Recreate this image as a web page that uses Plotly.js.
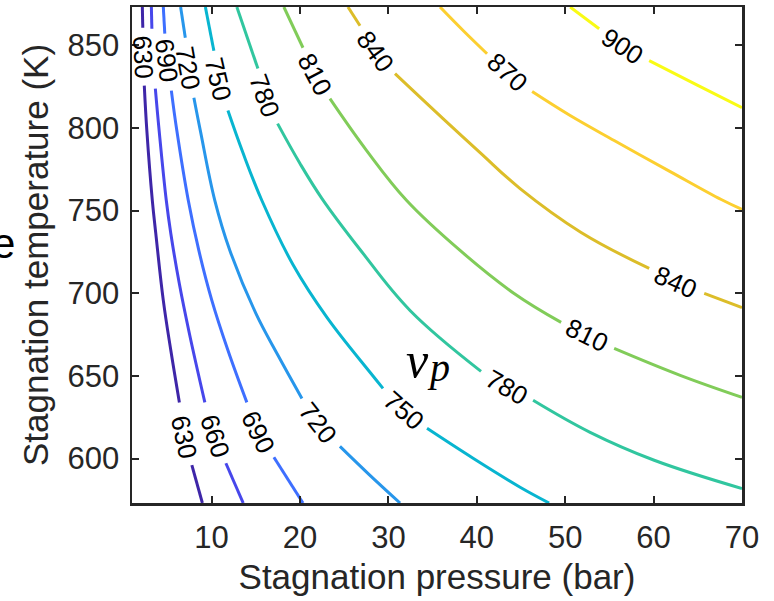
<!DOCTYPE html>
<html><head><meta charset="utf-8">
<script src="https://cdn.plot.ly/plotly-3.0.1.min.js"></script>
<style>html,body{margin:0;padding:0;background:#fff}</style>
</head><body><div id="chart" style="width:774px;height:601px"></div>
<script>
// Contour levels of v_p
const levels = [630, 660, 690, 720, 750, 780, 810, 840, 870, 900];
// Axis ticks
const xTicks = [10, 20, 30, 40, 50, 60, 70];
const yTicks = [600, 650, 700, 750, 800, 850];
// Traced contour lines: stagnation pressure (bar) and stagnation temperature (K); null = label gap
const p630 = [2.17, 2.22, null, 2.39, 2.68, 3.30, 3.69, 4.54, 5.39, 6.36, null, 7.77, 8.96];
const T630 = [873.15, 860.6, null, 825.6, 798.4, 756.1, 736.2, 695.7, 665.5, 634.0, null, 596.0, 573.15];
const p660 = [3.19, 3.25, null, 3.64, 4.07, 4.88, 5.39, 6.35, 7.49, 9.24, null, 11.62, 13.58];
const T660 = [873.15, 860.0, null, 823.8, 798.4, 756.1, 736.2, 705.9, 675.7, 634.0, null, 597.2, 573.15];
const p690 = [4.54, 4.71, null, 5.45, 6.07, 7.37, 8.56, 10.03, 11.85, 13.99, null, 17.05, 20.34];
const T690 = [873.15, 857.0, null, 822.6, 798.4, 756.1, 725.9, 695.7, 665.5, 634.0, null, 600.8, 573.15];
const p720 = [6.50, 7.03, null, 8.00, 8.73, 10.37, 12.07, 15.01, 17.51, 20.22, null, 24.52, 27.80, 31.32];
const T720 = [873.15, 854.6, null, 818.3, 798.4, 756.1, 725.9, 687.8, 662.5, 636.4, null, 607.4, 590.5, 573.15];
const p750 = [9.30, 10.26, null, 11.85, 13.54, 15.69, 19.20, 23.05, 27.92, 29.39, null, 34.37, 39.58, 44.90, 48.18];
const T750 = [873.15, 846.7, null, 810.5, 785.1, 756.1, 717.4, 685.4, 652.2, 642.5, null, 618.3, 600.2, 582.7, 573.15];
const p780 = [12.86, 15.24, null, 17.47, 20.00, 22.49, 26.79, 32.45, 40.48, null, 46.37, 52.82, 60.07, 70.00];
const T780 = [873.15, 835.9, null, 802.6, 778.5, 757.3, 726.5, 689.6, 652.8, null, 635.3, 615.9, 599.0, 581.9];
const p810 = [18.18, 20.34, null, 23.39, 27.54, 32.07, 38.11, 44.22, 49.54, null, 55.54, 63.01, 70.00];
const T810 = [873.15, 848.5, null, 817.7, 786.3, 756.1, 725.9, 699.9, 682.4, null, 666.7, 650.4, 637.1];
const p840 = [25.43, 26.79, null, 30.75, 36.18, 40.37, 44.90, 51.80, 59.50, null, 65.73, 70.00];
const T840 = [873.15, 861.8, null, 832.8, 805.6, 785.1, 763.3, 736.8, 715.0, null, 699.9, 691.4];
const p870 = [35.84, 38.48, 41.16, null, 46.26, 50.56, 55.54, 61.88, 67.65, 70.00];
const T870 = [873.15, 858.8, 844.9, null, 822.0, 807.5, 792.4, 773.6, 756.7, 750.7];
const p900 = [50.56, 53.84, null, 59.50, 64.94, 70.00];
const T900 = [873.15, 860.0, null, 840.7, 825.9, 812.3];

const series = [[p630,T630],[p660,T660],[p690,T690],[p720,T720],[p750,T750],
                [p780,T780],[p810,T810],[p840,T840],[p870,T870],[p900,T900]];
// parula colours for the levels
const lineColors = ['#3e26a8','#4747eb','#3e6fff','#2796eb','#08b5d0',
                    '#31c69f','#81cc59','#dcbd29','#fccf30','#f9fb15'];

const traces = series.map((s, i) => ({
  type: 'scatter', mode: 'lines', x: s[0], y: s[1], name: String(levels[i]),
  connectgaps: false, hoverinfo: 'skip', showlegend: false,
  line: {color: lineColors[i], width: 3, shape: 'spline', smoothing: 1.1}
}));

// label placement: [level, p, T, angle]
const labelSpots = [
  [630, 2.28, 843.1, 87], [690, 4.94, 840.7, 83], [720, 7.37, 836.5, 80],
  [750, 10.77, 829.8, 77], [780, 16.03, 819.5, 70], [810, 21.64, 832.5, 62],
  [840, 28.49, 846.7, 54], [870, 43.43, 834.0, 42], [900, 56.45, 849.8, 33],
  [840, 62.45, 707.1, 24], [810, 52.37, 674.5, 26], [780, 43.31, 643.1, 30],
  [750, 31.66, 629.2, 41], [720, 22.03, 621.4, 52], [690, 15.24, 615.9, 64],
  [660, 10.37, 613.5, 72], [630, 6.86, 612.9, 78]
];
const annotations = labelSpots.map(l => ({
  x: l[1], y: l[2], xref: 'x', yref: 'y', text: String(l[0]), textangle: l[3],
  showarrow: false, xanchor: 'center', yanchor: 'middle',
  font: {family: 'Liberation Sans, Arial, sans-serif', size: 26, color: '#000'}
}));
annotations.push({
  x: 33.35, y: 659.4, xref: 'x', yref: 'y', text: '<i>v</i>', showarrow: false,
  xanchor: 'center', yanchor: 'middle',
  font: {family: 'Liberation Serif, serif', size: 50, color: '#000'}
});
annotations.push({
  x: 35.7, y: 655.0, xref: 'x', yref: 'y', text: '<i>p</i>', showarrow: false,
  xanchor: 'center', yanchor: 'middle',
  font: {family: 'Liberation Serif, serif', size: 40, color: '#000'}
});
annotations.push({
  x: -0.2105, y: 0.5234, xref: 'paper', yref: 'paper', text: 'e', showarrow: false,
  xanchor: 'center', yanchor: 'middle',
  font: {family: 'Liberation Sans, Arial, sans-serif', size: 42, color: '#000'}
});

const axisCommon = {
  ticks: 'inside', ticklen: 7, tickwidth: 2, tickcolor: '#262626',
  showline: true, linecolor: '#262626', linewidth: 2.5, mirror: 'ticks',
  showgrid: false, zeroline: false,
  tickfont: {family: 'Liberation Sans, Arial, sans-serif', size: 31, color: '#262626'}
};
const layout = {
  width: 774, height: 601,
  margin: {l: 132, r: 32, t: 7, b: 98, pad: 0},
  paper_bgcolor: '#fff', plot_bgcolor: '#fff',
  font: {family: 'Liberation Sans, Arial, sans-serif', color: '#262626'},
  xaxis: Object.assign({}, axisCommon, {
    range: [1, 70], tickvals: xTicks, ticktext: xTicks.map(String), ticklabelstandoff: 5,
    title: {text: 'Stagnation pressure (bar)', font: {size: 35, color: '#262626'}, standoff: 11}
  }),
  yaxis: Object.assign({}, axisCommon, {
    range: [573.15, 873.15], tickvals: yTicks, ticktext: yTicks.map(String), ticklabelstandoff: 4,
    title: {text: 'Stagnation temperature (K)', font: {size: 35, color: '#262626'}, standoff: 9}
  }),
  annotations: annotations,
  showlegend: false
};
Plotly.newPlot('chart', traces, layout, {staticPlot: true, displayModeBar: false});
</script></body></html>
